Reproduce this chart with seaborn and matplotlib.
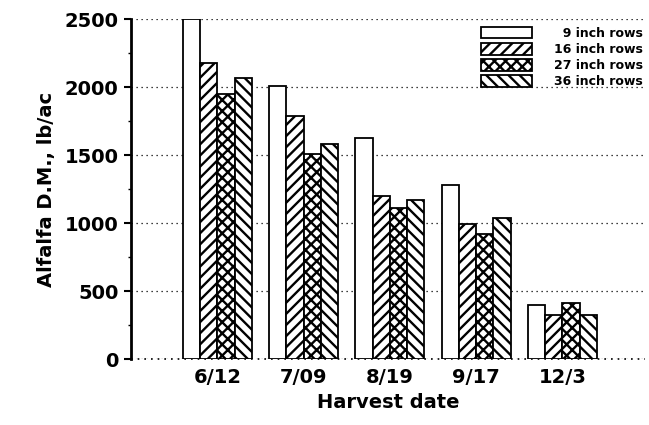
import pandas as pd
import matplotlib.pyplot as plt
import seaborn as sns
from matplotlib.ticker import MultipleLocator

# данные
dates = ['6/12', '7/09', '8/19', '9/17', '12/3']
rows = ['9 inch rows', '16 inch rows', '27 inch rows', '36 inch rows']
row9 = [2500, 2010, 1625, 1280, 400]
row16 = [2180, 1790, 1200, 990, 325]
row27 = [1950, 1505, 1110, 920, 415]
row36 = [2065, 1580, 1170, 1035, 325]

df = pd.DataFrame({
    'date': dates * 4,
    'rows': [r for r in rows for _ in dates],
    'value': row9 + row16 + row27 + row36,
})

sns.set_style('white', rc={'text.color': 'black', 'axes.labelcolor': 'black',
                           'xtick.color': 'black', 'ytick.color': 'black'})
plt.rcParams['font.family'] = ['DejaVu Sans']
plt.rcParams['hatch.linewidth'] = 1.7

fig = plt.figure(figsize=(6.49, 4.25), dpi=100)
ax = fig.add_axes([0.202, 0.155, 0.792, 0.8])

sns.barplot(data=df, x='date', y='value', hue='rows', order=dates,
            hue_order=rows, color='white', edgecolor='black', linewidth=1.3,
            width=0.8, ax=ax, legend=False)

# штриховка
hatches = ['', '///', 'xxx', '\\\\\\']
for cont, h in zip(ax.containers, hatches):
    for p in cont:
        p.set_facecolor('white')
        p.set_hatch(h)

ax.set_xlim(-1.0, 4.96)
ax.set_ylim(0, 2500)
ax.yaxis.set_major_locator(MultipleLocator(500))
ax.yaxis.set_minor_locator(MultipleLocator(250))
ax.grid(axis='y', linestyle=(0, (1, 3)), color='black', linewidth=0.9)
ax.set_axisbelow(True)
# пунктир по нулю
ax.axhline(0, linestyle=(0, (1, 3)), color='black', linewidth=1.2,
           clip_on=False, zorder=0)

for s in ['top', 'right', 'bottom']:
    ax.spines[s].set_visible(False)
ax.spines['left'].set_linewidth(2)
ax.spines['left'].set_color('black')

ax.tick_params(axis='y', which='major', left=True, length=5, width=1.5,
               labelsize=14, pad=4)
ax.tick_params(axis='y', which='minor', left=True, length=2, width=1)
ax.tick_params(axis='x', bottom=False, labelsize=14, pad=3)
for lbl in ax.get_yticklabels() + ax.get_xticklabels():
    lbl.set_fontweight('bold')

ax.set_xlabel('Harvest date', fontsize=14, fontweight='bold', labelpad=4)
ax.set_ylabel('Alfalfa D.M., lb/ac', fontsize=14, fontweight='bold', labelpad=6)

# подписи легенды выровнены вправо с помощью пробела ширины цифры
labels = ['\u2007' + rows[0]] + rows[1:]
ax.legend(ax.containers, labels, loc='upper right', frameon=False,
          prop={'size': 9, 'weight': 'bold'}, handlelength=4.1,
          handleheight=1.05, labelspacing=0.25, handletextpad=1.7,
          borderaxespad=0.0, borderpad=0.2, bbox_to_anchor=(1.0, 0.985))

plt.savefig('out.png', dpi=100)
